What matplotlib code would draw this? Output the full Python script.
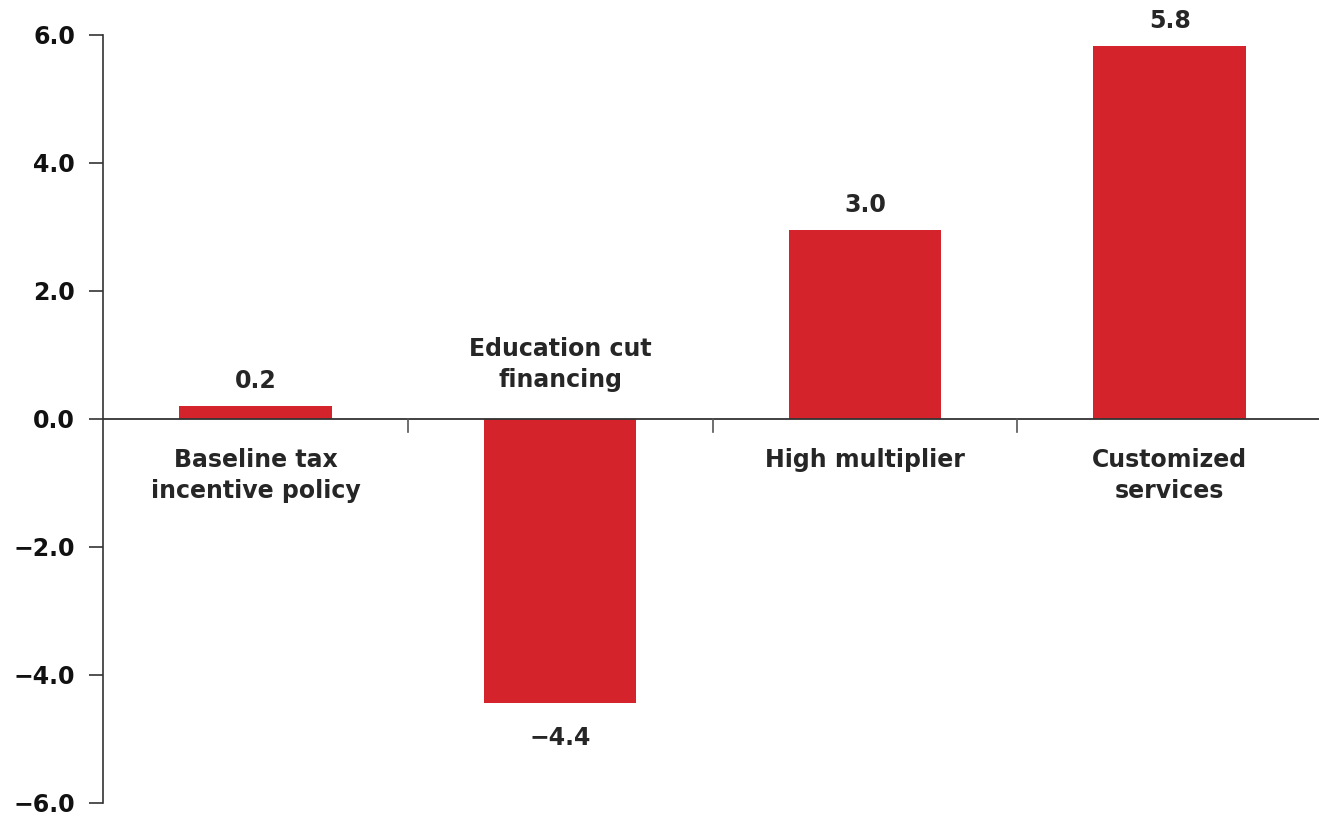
import matplotlib
matplotlib.use("Agg")
import matplotlib.pyplot as plt

categories = ["Baseline tax\nincentive policy", "Education cut\nfinancing", "High multiplier", "Customized\nservices"]
values = [0.21, -4.44, 2.96, 5.83]
value_labels = ["0.2", "\u22124.4", "3.0", "5.8"]
yticks = [-6.0, -4.0, -2.0, 0.0, 2.0, 4.0, 6.0]
ytick_labels = ["\u22126.0", "\u22124.0", "\u22122.0", "0.0", "2.0", "4.0", "6.0"]

plt.rcParams['font.family'] = ['DejaVu Sans']
BAR = "#D4232B"
TXT = "#262626"
FS = 17
FW = 'semibold'

fig = plt.figure(figsize=(13.19, 8.16), dpi=100)
ax = fig.add_axes([103/1319, 13/816, 1216/1319, 768/816])
x = list(range(len(categories)))
ax.bar(x, values, width=0.5, color=BAR, zorder=2)
ax.axhline(0, color="#333333", lw=1.3, zorder=3)

ax.set_xlim(-0.5, 3.49)
ax.set_ylim(-6, 6)
ax.set_yticks(yticks)
ax.set_yticklabels(ytick_labels, fontsize=FS, fontweight=FW, color="#111111")
ax.tick_params(axis='y', direction='out', length=10, width=1.2, color="#333333", pad=10)
ax.set_xticks([])
for b in [0.5, 1.5, 2.5]:
    ax.plot([b, b], [0, -0.2], color="#555555", lw=1.2, zorder=3, clip_on=False)

for s in ["top", "right", "bottom"]:
    ax.spines[s].set_visible(False)
ax.spines["left"].set_color("#333333")
ax.spines["left"].set_linewidth(1.2)

for xi, v, lab, cat in zip(x, values, value_labels, categories):
    if v >= 0:
        ax.text(xi, v + 0.2, lab, ha='center', va='bottom', fontsize=FS, fontweight=FW, color=TXT)
        ax.text(xi, -0.45, cat, ha='center', va='top', fontsize=FS, fontweight=FW, color=TXT, linespacing=1.4)
    else:
        ax.text(xi, v - 0.35, lab, ha='center', va='top', fontsize=FS, fontweight=FW, color=TXT)
        ax.text(xi, 0.42, cat, ha='center', va='bottom', fontsize=FS, fontweight=FW, color=TXT, linespacing=1.4)

fig.savefig("out.png", dpi=100)
